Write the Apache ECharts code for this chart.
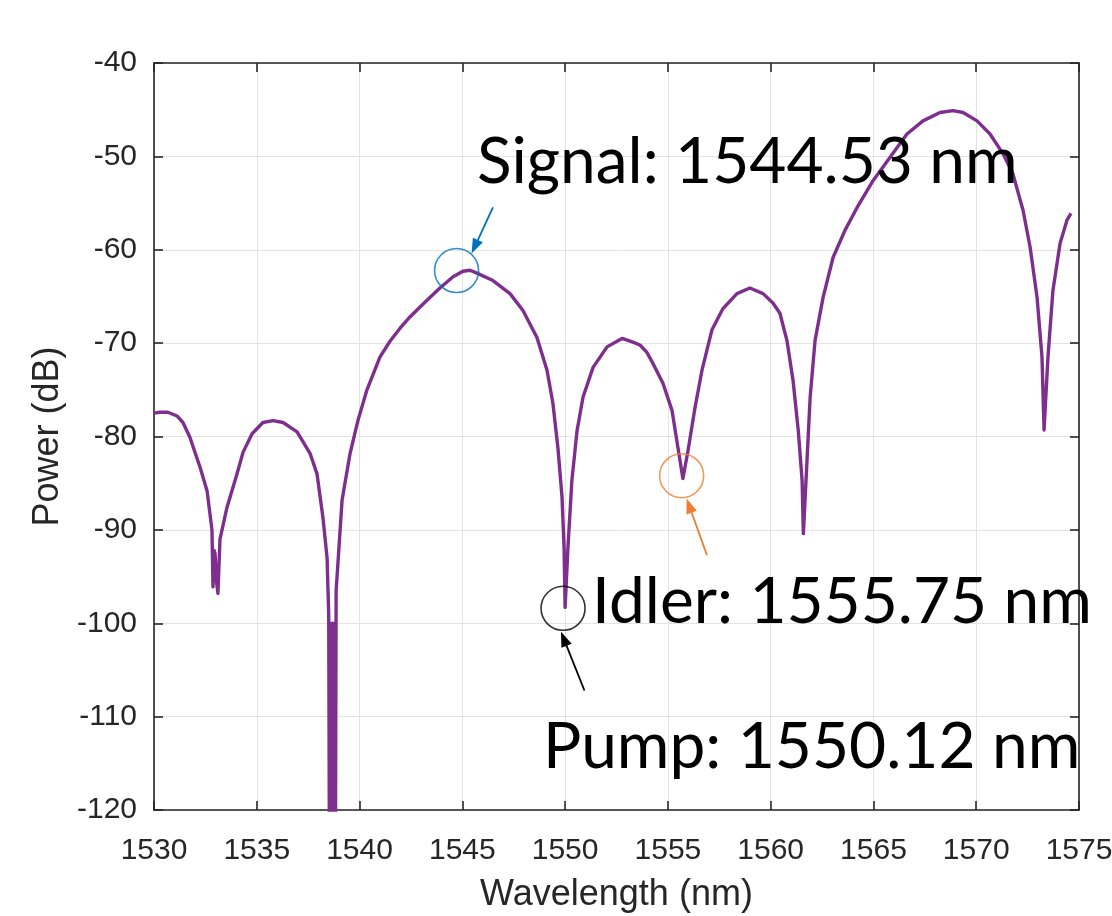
<!DOCTYPE html>
<html>
<head>
<meta charset="utf-8">
<script src="https://cdn.jsdelivr.net/npm/echarts@6/dist/echarts.min.js"></script>
<style>
html,body{margin:0;padding:0;background:#fff;}
#chart{width:1112px;height:916px;}
</style>
</head>
<body>
<div id="chart"></div>
<script>
// ---- data ----
const wavelength = [
  1530.00,1530.29,1530.68,1531.12,1531.41,1531.75,1532.24,1532.58,1532.82,1532.87,
  1532.92,1532.97,1533.04,1533.11,1533.21,1533.31,1533.55,1534.04,1534.33,1534.77,
  1535.30,1535.79,1536.28,1536.96,1537.59,1537.93,1538.22,1538.42,1538.46,1538.50,
  1538.53,1538.56,1538.59,1538.62,1538.65,1538.68,1538.71,1538.74,1538.77,1538.80,
  1538.83,1538.86,1539.15,1539.54,1539.92,
  1540.36,1540.99,1541.48,1541.97,1542.45,1543.28,1543.91,1544.55,1545.03,1545.37,
  1545.71,1546.49,1547.32,1547.95,1548.63,1549.12,1549.41,1549.65,1549.85,1549.95,
  1550.00,1550.14,1550.33,1550.58,1550.87,1551.36,1552.04,1552.77,1553.30,1553.64,
  1553.98,1554.28,1554.76,1555.20,1555.49,1555.73,1555.98,1556.32,1556.66,1557.14,
  1557.68,1558.36,1558.99,1559.63,1560.11,1560.45,1560.79,1561.09,1561.34,1561.53,
  1561.59,1561.72,1561.92,1562.16,1562.55,1563.04,1563.62,1564.20,1564.98,1565.81,
  1566.63,1567.41,1568.24,1568.87,1569.36,1570.04,1570.67,1571.30,1571.79,1572.28,
  1572.62,1572.96,1573.20,1573.30,1573.49,1573.73,1574.08,1574.42,1574.61
];
const power = [
  -77.5,-77.4,-77.4,-77.8,-78.5,-80.1,-83.3,-85.8,-90.0,-96.1,
  -92.2,-92.5,-95.5,-96.8,-91.0,-90.0,-87.6,-84.0,-81.7,-79.7,
  -78.5,-78.3,-78.5,-79.5,-81.8,-84.0,-88.7,-93.0,-96.1,-99.0,
  -122,-100,-122,-101,-122,-100,-122,-101,-122,-100,
  -122,-96.5,-86.8,-81.8,-78.3,
  -75.0,-71.5,-69.8,-68.4,-67.2,-65.4,-64.1,-62.9,-62.3,-62.2,
  -62.5,-63.3,-64.7,-66.5,-69.4,-72.9,-76.5,-81.2,-86.5,-91.9,
  -98.3,-91.8,-84.7,-79.4,-75.8,-72.6,-70.4,-69.5,-69.9,-70.2,
  -71.0,-72.2,-74.3,-77.2,-81.2,-84.5,-81.5,-76.9,-72.9,-68.6,
  -66.3,-64.7,-64.1,-64.7,-65.7,-66.8,-69.7,-74.0,-79.3,-84.7,
  -90.4,-84.7,-75.8,-69.7,-65.1,-60.8,-57.9,-55.5,-52.6,-50.1,
  -47.6,-46.2,-45.3,-45.1,-45.3,-46.2,-47.6,-49.7,-51.9,-55.8,
  -59.7,-65.1,-71.5,-79.3,-71.5,-64.4,-59.3,-56.8,-56.1
];
const xTickMin = 1530, xTickMax = 1575, xTickStep = 5;
const yTickMin = -120, yTickMax = -40, yTickStep = 10;

// annotation markers (data coordinates)
const markerNames = ['Signal', 'Idler', 'Pump'];
const markerCenters = [[1544.72, -62.23], [1555.67, -84.2], [1549.90, -98.4]];
const arrowStarts = [[1546.49, -55.45], [1556.90, -92.7], [1550.94, -107.2]];
const arrowTips = [[1545.45, -60.41], [1555.91, -86.64], [1549.80, -100.92]];
const markerColors = ['#0072BD', '#ED7D31', '#000000'];
const labelTexts = ['Signal: 1544.53 nm', 'Idler: 1555.75 nm', 'Pump: 1550.12 nm'];

const lineData = wavelength.map((w, i) => [w, power[i]]);

const axisColor = '#262626';
const gridColor = '#e3e3e3';
const tickFont = 'Liberation Sans, Arial, sans-serif';

const chart = echarts.init(document.getElementById('chart'));

const markerSeries = markerNames.map((n, i) => ({
  type: 'scatter',
  name: n,
  data: [markerCenters[i]],
  symbol: 'circle',
  symbolSize: 44,
  itemStyle: { color: 'rgba(0,0,0,0)', borderColor: markerColors[i], borderWidth: 1.6 },
  silent: true,
  z: 5
}));

const tickCommon = { show: true, inside: true, length: 9, lineStyle: { color: axisColor, width: 1.6 } };
const lineCommon = { show: true, onZero: false, lineStyle: { color: axisColor, width: 1.6 } };

chart.setOption({
  animation: false,
  backgroundColor: '#ffffff',
  grid: { left: 154, right: 33, top: 63, bottom: 106, outerBoundsMode: 'none', containLabel: false },
  xAxis: [{
    type: 'value', min: xTickMin, max: xTickMax, interval: xTickStep,
    position: 'bottom',
    axisLine: lineCommon,
    axisTick: tickCommon,
    axisLabel: { fontSize: 30, color: axisColor, fontFamily: tickFont, margin: 26,
      formatter: v => String(v) },
    splitLine: { show: true, lineStyle: { color: gridColor, width: 1 } },
    name: 'Wavelength (nm)', nameLocation: 'middle', nameGap: 67,
    nameTextStyle: { fontSize: 36, color: axisColor, fontFamily: tickFont }
  }, {
    type: 'value', min: xTickMin, max: xTickMax, interval: xTickStep,
    position: 'top',
    axisLine: lineCommon,
    axisTick: tickCommon,
    axisLabel: { show: false },
    splitLine: { show: false }
  }],
  yAxis: [{
    type: 'value', min: yTickMin, max: yTickMax, interval: yTickStep,
    position: 'left',
    axisLine: lineCommon,
    axisTick: tickCommon,
    axisLabel: { fontSize: 30, color: axisColor, fontFamily: tickFont, margin: 17,
      formatter: v => String(v) },
    splitLine: { show: true, lineStyle: { color: gridColor, width: 1 } },
    name: 'Power (dB)', nameLocation: 'middle', nameGap: 88, nameRotate: 90,
    nameTextStyle: { fontSize: 36, color: axisColor, fontFamily: tickFont }
  }, {
    type: 'value', min: yTickMin, max: yTickMax, interval: yTickStep,
    position: 'right',
    axisLine: lineCommon,
    axisTick: tickCommon,
    axisLabel: { show: false },
    splitLine: { show: false }
  }],
  series: [{
    type: 'line',
    name: 'Power',
    data: lineData,
    showSymbol: false,
    symbol: 'none',
    clip: true,
    lineStyle: { color: '#7E2F8E', width: 3.4, join: 'round' },
    z: 3
  }].concat(markerSeries)
});

// arrows (converted from data coordinates) and label texts
const graphics = [];
arrowStarts.forEach((s, i) => {
  const p0 = chart.convertToPixel({ gridIndex: 0 }, s);
  const p1 = chart.convertToPixel({ gridIndex: 0 }, arrowTips[i]);
  const dx = p1[0] - p0[0], dy = p1[1] - p0[1];
  const len = Math.sqrt(dx * dx + dy * dy);
  const ux = dx / len, uy = dy / len;
  const headLen = 15, headHalf = 5.5;
  const bx = p1[0] - ux * headLen, by = p1[1] - uy * headLen;
  graphics.push({
    type: 'line', z: 10, silent: true,
    shape: { x1: p0[0], y1: p0[1], x2: bx + ux * 2, y2: by + uy * 2 },
    style: { stroke: markerColors[i], lineWidth: 1.8 }
  });
  graphics.push({
    type: 'polygon', z: 10, silent: true,
    shape: { points: [[p1[0], p1[1]], [bx - uy * headHalf, by + ux * headHalf], [bx + uy * headHalf, by - ux * headHalf]] },
    style: { fill: markerColors[i] }
  });
});
const labelPos = [[477, 130], [592, 570], [543, 715]];
labelTexts.forEach((t, i) => {
  graphics.push({
    type: 'text',
    left: labelPos[i][0],
    top: labelPos[i][1],
    z: 10,
    style: { text: t, fill: '#000', font: '64px Lato, "Open Sans", sans-serif' }
  });
});
chart.setOption({ graphic: graphics });
</script>
</body>
</html>
